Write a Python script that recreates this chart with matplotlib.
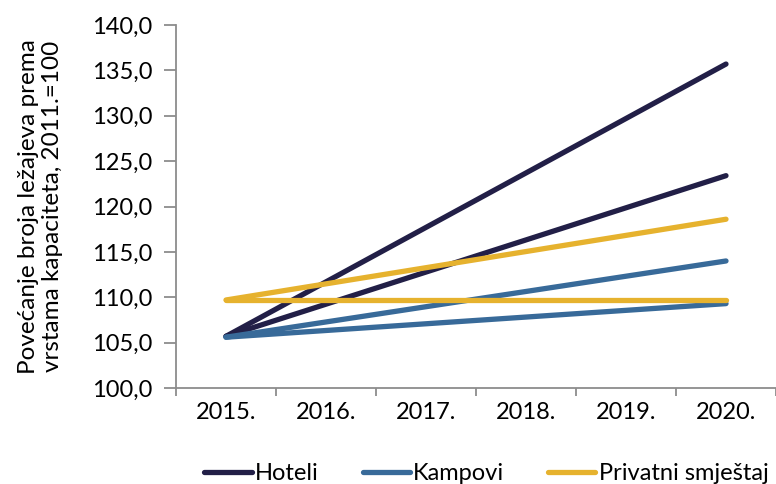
import matplotlib
matplotlib.use('Agg')
import matplotlib.pyplot as plt

# kategorije na osi x
godine = ['2015.', '2016.', '2017.', '2018.', '2019.', '2020.']
# krajnje tocke (2015. i 2020.), dva scenarija po vrsti kapaciteta
tocke = [0, 5]
hoteli_1 = [105.7, 135.7]
hoteli_2 = [105.7, 123.4]
kampovi_1 = [105.6, 114.0]
kampovi_2 = [105.6, 109.3]
privatni_1 = [109.7, 118.6]
privatni_2 = [109.7, 109.7]

plt.rcParams['font.family'] = ['Lato', 'DejaVu Sans']

fig = plt.figure(figsize=(7.76, 4.84), dpi=100)
ax = fig.add_axes([0.2268, 0.1983, 0.7732, 0.75])

c_hot = '#221F47'
c_kam = '#386A99'
c_pri = '#E6B22E'
lw = 3.8
fs = 17

ax.plot(tocke, hoteli_1, color=c_hot, lw=lw, solid_capstyle='round', label='Hoteli')
ax.plot(tocke, hoteli_2, color=c_hot, lw=lw, solid_capstyle='round')
ax.plot(tocke, kampovi_1, color=c_kam, lw=lw, solid_capstyle='round', label='Kampovi')
ax.plot(tocke, kampovi_2, color=c_kam, lw=lw, solid_capstyle='round')
ax.plot(tocke, privatni_1, color=c_pri, lw=lw, solid_capstyle='round', label='Privatni smještaj')
ax.plot(tocke, privatni_2, color=c_pri, lw=lw, solid_capstyle='round')

ax.set_xlim(-0.5, 5.5)
ax.set_ylim(100, 140)
ax.set_yticks(range(100, 141, 5))
ax.set_yticklabels([f'{v},0' for v in range(100, 141, 5)], fontsize=fs)
ax.set_xticks(range(len(godine)))
ax.set_xticklabels(godine, fontsize=fs)
ax.tick_params(axis='x', length=0, pad=10)
ax.set_xticks([i - 0.5 for i in range(len(godine) + 1)], minor=True)
ax.tick_params(axis='x', which='minor', length=6, color='#8C8C8C', width=1.3)
ax.tick_params(axis='y', length=9, color='#8C8C8C', width=1.3, pad=8)

for s in ['top', 'right']:
    ax.spines[s].set_visible(False)
for s in ['left', 'bottom']:
    ax.spines[s].set_color('#8C8C8C')
    ax.spines[s].set_linewidth(1.3)

ax.set_ylabel('Povećanje broja ležajeva prema\nvrstama kapaciteta, 2011.=100', fontsize=17.5,
              labelpad=21, linespacing=1.15)

fig.legend(loc='center', bbox_to_anchor=(0.627, 0.022), ncol=3, frameon=False,
           fontsize=fs, handlelength=2.0, handletextpad=0.15, columnspacing=1.85)

fig.savefig('out.png', dpi=100)
